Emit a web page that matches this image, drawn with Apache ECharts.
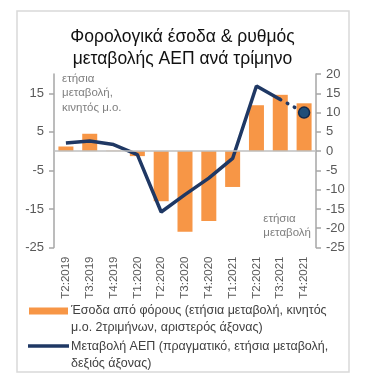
<!DOCTYPE html>
<html>
<head>
<meta charset="utf-8">
<script src="https://cdn.jsdelivr.net/npm/echarts@6/dist/echarts.min.js"></script>
<style>
html,body{margin:0;padding:0;background:#fff;}
#c{width:365px;height:375px;}
</style>
</head>
<body>
<div id="c"></div>
<script>
const categories = ['T2:2019','T3:2019','T4:2019','T1:2020','T2:2020','T3:2020','T4:2020','T1:2021','T2:2021','T3:2021','T4:2021'];
const taxRevenue = [1.2, 4.5, 0.1, -1.3, -13.0, -20.9, -18.1, -9.3, 11.9, 14.6, 12.4];
const gdpActual = [2.1, 2.6, 1.7, -0.9, -15.8, -11.3, -7.0, -1.9, 16.9, 13.4, null];
const gdpForecast = [null, null, null, null, null, null, null, null, null, 13.4, 10.0];
const leftTicks = [-25, -15, -5, 5, 15];
const rightTicks = [-25, -20, -15, -10, -5, 0, 5, 10, 15, 20];
const legendTax = ['Έσοδα από φόρους (ετήσια μεταβολή, κινητός', 'μ.ο. 2τριμήνων, αριστερός άξονας)'];
const legendGdp = ['Μεταβολή ΑΕΠ (πραγματικό, ετήσια μεταβολή,', 'δεξιός άξονας)'];

const FONT = 'Liberation Sans';
const orange = '#F79646';
const navy = '#1F3864';

const chart = echarts.init(document.getElementById('c'), null, {renderer: 'canvas'});
const fcData = gdpForecast.map((v, i) => {
  if (v === null) return null;
  if (i === gdpForecast.length - 1) {
    return {value: v, symbol: 'circle', symbolSize: 11,
      itemStyle: {color: '#1F4E79', borderColor: '#14294A', borderWidth: 1.5}};
  }
  return {value: v, symbol: 'none'};
});

chart.setOption({
  animation: false,
  textStyle: {fontFamily: FONT},
  title: {
    text: 'Φορολογικά έσοδα & ρυθμός\nμεταβολής ΑΕΠ ανά τρίμηνο',
    left: 'center', top: 21,
    textStyle: {fontFamily: FONT, fontSize: 17.5, fontWeight: 'normal', color: '#111111', lineHeight: 22}
  },
  grid: {left: 54, right: 49, top: 74, bottom: 127.5, containLabel: false},
  xAxis: {
    type: 'category', data: categories,
    axisLine: {show: false, onZero: false},
    axisTick: {show: false},
    axisLabel: {rotate: 90, fontSize: 11.5, margin: 9, color: '#595959', fontFamily: FONT}
  },
  yAxis: [
    {type: 'value', min: -25, max: 20, interval: 10, position: 'left',
     splitLine: {show: false},
     axisLine: {show: true, lineStyle: {color: '#A6A6A6', width: 1.5}},
     axisTick: {show: true, length: 5, inside: false, lineStyle: {color: '#A6A6A6', width: 1.5}},
     axisLabel: {showMaxLabel: false, fontSize: 13, margin: 10, color: '#595959', fontFamily: FONT,
       formatter: v => leftTicks.includes(v) ? String(v) : ''}},
    {type: 'value', min: -25, max: 20, interval: 5, position: 'right',
     splitLine: {show: false},
     axisLine: {show: true, lineStyle: {color: '#A6A6A6', width: 1.5}},
     axisTick: {show: true, length: 5, lineStyle: {color: '#A6A6A6', width: 1.5}},
     axisLabel: {fontSize: 13, margin: 10, color: '#595959', fontFamily: FONT,
       formatter: v => rightTicks.includes(v) ? String(v) : ''}}
  ],
  series: [
    {name: legendTax.join(' '), type: 'bar', yAxisIndex: 0, data: taxRevenue,
     barWidth: 15, itemStyle: {color: orange},
     markLine: {silent: true, symbol: 'none', label: {show: false},
       lineStyle: {color: '#BFBFBF', width: 1.5, type: 'solid'},
       data: [{yAxis: 0}]}},
    {name: legendGdp.join(' '), type: 'line', yAxisIndex: 1, data: gdpActual,
     symbol: 'none', lineStyle: {color: navy, width: 3.5}, itemStyle: {color: navy}, z: 3},
    {name: 'forecast', type: 'line', yAxisIndex: 1, data: fcData,
     symbol: 'none', showSymbol: true, connectNulls: false,
     lineStyle: {color: navy, width: 3.5, type: [0.5, 7.5], cap: 'round'}, itemStyle: {color: navy}, z: 4}
  ],
  graphic: [
    {type: 'rect', shape: {x: 17, y: 11, width: 332, height: 361},
     style: {fill: 'none', stroke: '#D9D9D9', lineWidth: 1.5}, silent: true, z: -1},
    {type: 'text', left: 62, top: 71,
     style: {text: 'ετήσια\nμεταβολή,\nκινητός μ.ο.', font: '11.5px ' + FONT, fill: '#7F7F7F', lineHeight: 14.7}},
    {type: 'text', right: 54, top: 212,
     style: {text: 'ετήσια\nμεταβολή', font: '11.5px ' + FONT, fill: '#7F7F7F', lineHeight: 14, align: 'right'}},
    {type: 'rect', shape: {x: 29, y: 307.5, width: 39, height: 7}, style: {fill: orange}},
    {type: 'line', shape: {x1: 28, y1: 346, x2: 69, y2: 346}, style: {stroke: navy, lineWidth: 3.5}},
    {type: 'text', left: 71, top: 302,
     style: {text: legendTax.join('\n'), font: '12.5px ' + FONT, fill: '#404040', lineHeight: 16.8}},
    {type: 'text', left: 71, top: 337.5,
     style: {text: legendGdp.join('\n'), font: '12.5px ' + FONT, fill: '#404040', lineHeight: 17.3}}
  ]
});
</script>
</body>
</html>
